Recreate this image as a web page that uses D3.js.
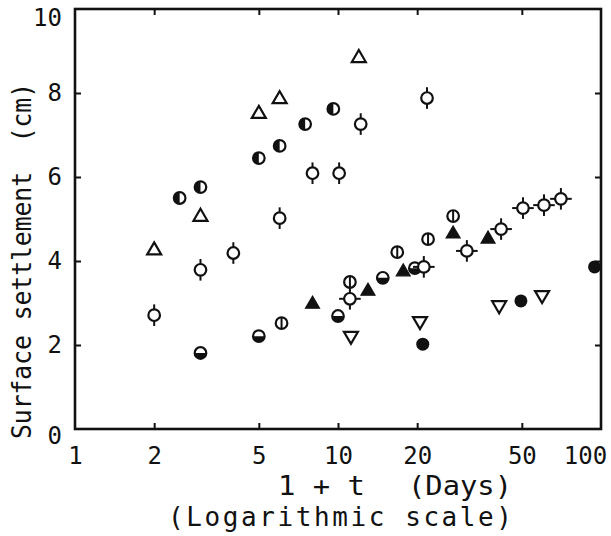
<!DOCTYPE html>
<html>
<head>
<meta charset="utf-8">
<script src="https://cdn.jsdelivr.net/npm/d3@7"></script>
<style>
  html, body { margin: 0; padding: 0; background: #fff; }
  text { font-family: "DejaVu Sans Mono", "Liberation Mono", monospace; fill: #111; white-space: pre; }
</style>
</head>
<body>
<svg id="chart" width="611" height="536"></svg>
<script>
// ---- Data (x = 1 + t in days, y = surface settlement in cm) ----
const xTickValues = [1, 2, 5, 10, 20, 50, 100];
const yTickValues = [0, 2, 4, 6, 8, 10];

const openTriangle   = [[2, 4.3], [3, 5.1], [5, 7.55], [6, 7.9], [12, 8.88]];
const leftHalfCircle = [[2.5, 5.5], [3, 5.76], [5, 6.45], [6, 6.74], [7.5, 7.26], [9.6, 7.62]];
const vertTickCircle = [[2, 2.71], [3, 3.79], [4, 4.19], [6, 5.02], [8, 6.09], [10.1, 6.09], [12.2, 7.26], [21.8, 7.88]];
const filledTriangle = [[8, 3.02], [13, 3.33], [17.7, 3.79], [27.4, 4.69], [37.2, 4.57]];
const lowerHalfCircle = [[3, 1.81], [5, 2.21], [10, 2.69], [14.8, 3.6], [19.6, 3.83]];
const phiCircle      = [[6.1, 2.52], [11.1, 3.5], [16.8, 4.21], [22, 4.52], [27.4, 5.07]];
const crossCircle    = [[11.1, 3.1], [21.2, 3.86], [30.9, 4.24], [41.7, 4.76], [50.5, 5.26], [60.7, 5.33], [70.4, 5.48]];
const invTriangle    = [[11.2, 2.17], [20.5, 2.52], [41, 2.9], [59.7, 3.14]];
const filledCircle   = [[21, 2.02], [49.6, 3.05], [94.5, 3.86]];

// ---- Layout ----
const L = 75, R = 601, T = 9, B = 429;
const svg = d3.select("#chart");
const x = d3.scaleLog().domain([1, 100]).range([L, R]);
const y = d3.scaleLinear().domain([0, 10]).range([B, T]);

const INK = "#111";
const fontSize = 24;

// ---- Axes (inward ticks) ----
const innerX = [2, 5, 10, 20, 50];
const innerY = [2, 4, 6, 8];

function styleAxis(g) {
  g.select(".domain").remove();
  g.selectAll(".tick line").attr("stroke", INK).attr("stroke-width", 2);
}

// bottom labels + ticks
const gB = svg.append("g").attr("transform", `translate(0,${B})`)
  .call(d3.axisBottom(x).tickValues(xTickValues).tickFormat(d3.format("d")).tickSize(-6).tickPadding(18));
styleAxis(gB);
gB.selectAll(".tick").filter(d => d === 1 || d === 100).select("line").remove();
gB.selectAll(".tick text").attr("font-size", fontSize).attr("fill", INK)
  .attr("font-family", "DejaVu Sans Mono")
  .attr("dx", d => d === 100 ? -16 : 0);

// left labels + ticks
const gL = svg.append("g").attr("transform", `translate(${L},0)`)
  .call(d3.axisLeft(y).tickValues(yTickValues).tickFormat(d3.format("d")).tickSize(-6).tickPadding(13));
styleAxis(gL);
gL.selectAll(".tick").filter(d => d === 0 || d === 10).select("line").remove();
gL.selectAll(".tick text").attr("font-size", fontSize).attr("fill", INK)
  .attr("font-family", "DejaVu Sans Mono")
  .attr("dy", d => d === 0 ? "0.62em" : d === 10 ? "0.7em" : "0.32em");

// top ticks
const gT = svg.append("g").attr("transform", `translate(0,${T})`)
  .call(d3.axisTop(x).tickValues(innerX).tickFormat("").tickSize(-6));
styleAxis(gT);
// right ticks
const gR = svg.append("g").attr("transform", `translate(${R},0)`)
  .call(d3.axisRight(y).tickValues(innerY).tickFormat("").tickSize(-6));
styleAxis(gR);

// ---- Markers ----
const r = 5.8, sw = 2.2, stub = 5;
function place(data, cls) {
  return svg.append("g").attr("class", cls).selectAll("g").data(data).join("g")
    .attr("transform", d => `translate(${x(d[0])},${y(d[1])})`);
}
function openCircle(sel) {
  sel.append("circle").attr("r", r).attr("fill", "#fff").attr("stroke", INK).attr("stroke-width", sw);
}
function line(sel, x1, y1, x2, y2) {
  sel.append("line").attr("x1", x1).attr("y1", y1).attr("x2", x2).attr("y2", y2)
    .attr("stroke", INK).attr("stroke-width", 2);
}

// open triangles
place(openTriangle, "otri").append("path").attr("d", "M0,-6 L7,6 L-7,6 Z")
  .attr("fill", "#fff").attr("stroke", INK).attr("stroke-width", sw).attr("stroke-linejoin", "miter");

// left-half filled circles
{
  const g = place(leftHalfCircle, "lhalf");
  openCircle(g);
  g.append("path").attr("d", `M0,${-r} A${r},${r} 0 0,0 0,${r} Z`).attr("fill", INK);
}

// circles with vertical ticks
{
  const g = place(vertTickCircle, "vtick");
  line(g, 0, -r - stub, 0, -r);
  line(g, 0, r, 0, r + stub);
  openCircle(g);
}

// filled triangles
place(filledTriangle, "ftri").append("path").attr("d", "M0,-6 L7,6 L-7,6 Z")
  .attr("fill", INK).attr("stroke", INK).attr("stroke-width", 1.2);

// lower-half filled circles
{
  const g = place(lowerHalfCircle, "bhalf");
  openCircle(g);
  g.append("path").attr("d", `M${-r},0 A${r},${r} 0 0,0 ${r},0 Z`).attr("fill", INK);
}

// phi circles
{
  const g = place(phiCircle, "phi");
  openCircle(g);
  line(g, 0, -r, 0, r);
}

// circles with cross ticks
{
  const g = place(crossCircle, "cross");
  line(g, 0, -r - stub, 0, -r);
  line(g, 0, r, 0, r + stub);
  line(g, -r - stub, 0, -r, 0);
  line(g, r, 0, r + stub, 0);
  openCircle(g);
}

// inverted triangles
place(invTriangle, "itri").append("path").attr("d", "M-7,-6 L7,-6 L0,6 Z")
  .attr("fill", "#fff").attr("stroke", INK).attr("stroke-width", sw);

// filled circles
place(filledCircle, "fcirc").append("circle").attr("r", 6.5).attr("fill", INK);

// ---- Frame ----
svg.append("rect").attr("x", L).attr("y", T).attr("width", R - L).attr("height", B - T)
  .attr("fill", "none").attr("stroke", INK).attr("stroke-width", 2.6);

// ---- Axis titles ----
svg.append("text").attr("transform", `translate(31,261) rotate(-90)`)
  .attr("text-anchor", "middle").attr("font-size", 26)
  .attr("textLength", 356).attr("lengthAdjust", "spacingAndGlyphs")
  .text("Surface settlement  (cm)");

svg.append("text").attr("x", 278).attr("y", 495).attr("font-size", 26)
  .attr("textLength", 87).attr("lengthAdjust", "spacingAndGlyphs").text("1 + t");
svg.append("text").attr("x", 408).attr("y", 495).attr("font-size", 26)
  .attr("textLength", 104).attr("lengthAdjust", "spacingAndGlyphs").text("(Days)");
svg.append("text").attr("x", 168).attr("y", 526).attr("font-size", 26)
  .attr("textLength", 344).attr("lengthAdjust", "spacing").text("(Logarithmic scale)");
</script>
</body>
</html>
